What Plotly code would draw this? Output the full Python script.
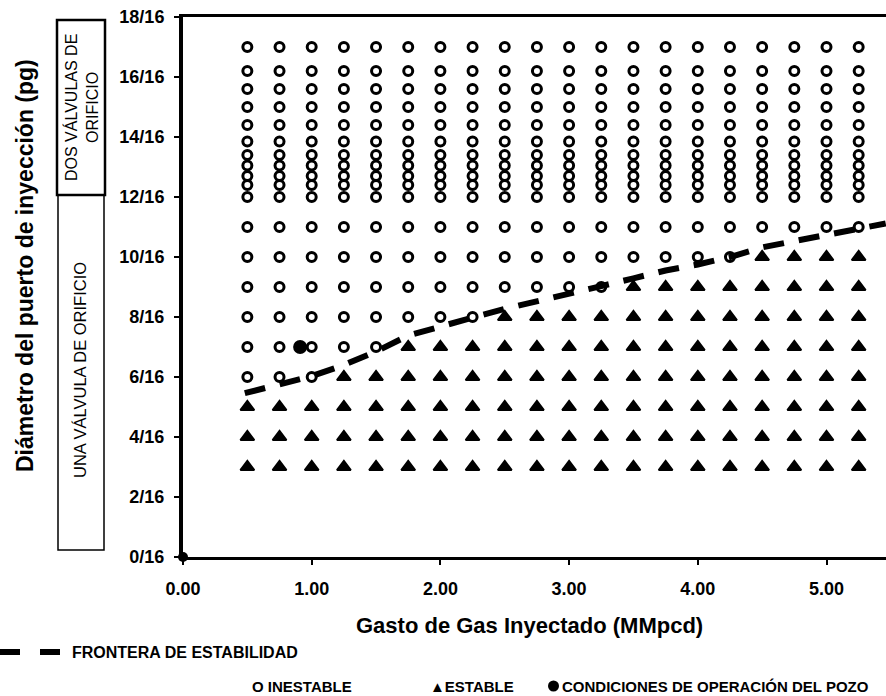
import plotly.graph_objects as go

# ---------------- data ----------------
flow_cols = [0.50, 0.75, 1.00, 1.25, 1.50, 1.75, 2.00, 2.25, 2.50, 2.75,
             3.00, 3.25, 3.50, 3.75, 4.00, 4.25, 4.50, 4.75, 5.00, 5.25]
port_rows = [3, 4, 5, 6, 7, 8, 9, 10, 11,
             12.0, 12.4, 12.7, 13.05, 13.4, 13.85, 14.4, 15.0, 15.6, 16.2, 17.0]
# first gas rate at which each row becomes stable (None = unstable in the whole row)
stable_from = [0.50, 0.50, 0.50, 1.25, 1.75, 2.50, 3.50, 4.50, None,
               None, None, None, None, None, None, None, None, None, None, None]

frontier_x = [0.48, 0.75, 1.00, 1.25, 1.50, 1.75, 2.00, 2.25, 2.50, 2.75, 3.00,
              3.25, 3.50, 3.75, 4.00, 4.25, 4.50, 4.75, 5.00, 5.25, 5.46]
frontier_y = [5.46, 5.73, 6.03, 6.40, 6.85, 7.38, 7.70, 7.98, 8.27, 8.51, 8.76,
              9.03, 9.29, 9.55, 9.75, 10.00, 10.32, 10.52, 10.72, 10.94, 11.12]

operating_x = [0.91]
operating_y = [7.0]
origin_x = [0.0]
origin_y = [0.0]

y_tick_vals = [0, 2, 4, 6, 8, 10, 12, 14, 16, 18]
y_tick_text = ["0/16", "2/16", "4/16", "6/16", "8/16", "10/16", "12/16", "14/16", "16/16", "18/16"]
x_tick_vals = [0, 1, 2, 3, 4, 5]
x_tick_text = ["0.00", "1.00", "2.00", "3.00", "4.00", "5.00"]

# ---------------- split grid into stable / unstable ----------------
st_x, st_y, un_x, un_y = [], [], [], []
for row, lim in zip(port_rows, stable_from):
    for q in flow_cols:
        if lim is not None and q >= lim:
            st_x.append(q); st_y.append(row)
        else:
            un_x.append(q); un_y.append(row)

# ---------------- geometry helpers (pixels -> paper) ----------------
W, H = 886, 696
L, R, T, B = 183, 886, 17, 557
def px(x):
    return (x - L) / (R - L)
def py(y):
    return (B - y) / (B - T)

FONT = "Arial, 'Liberation Sans', sans-serif"
BLACK = "#000000"

fig = go.Figure()
fig.add_trace(go.Scatter(x=un_x, y=un_y, mode="markers", name="INESTABLE",
                         marker=dict(symbol="circle-open", size=9, color=BLACK,
                                     line=dict(width=3, color=BLACK)),
                         showlegend=False, cliponaxis=False))
fig.add_trace(go.Scatter(x=st_x, y=st_y, mode="markers", name="ESTABLE",
                         marker=dict(symbol="triangle-up", size=12, color=BLACK,
                                     line=dict(width=2, color=BLACK)),
                         showlegend=False, cliponaxis=False))
fig.add_trace(go.Scatter(x=frontier_x, y=frontier_y, mode="lines",
                         name="FRONTERA DE ESTABILIDAD",
                         line=dict(color=BLACK, width=6, dash="21px,15px"),
                         showlegend=False))
fig.add_trace(go.Scatter(x=operating_x, y=operating_y, mode="markers",
                         name="CONDICIONES DE OPERACIÓN DEL POZO",
                         marker=dict(symbol="circle", size=14, color=BLACK),
                         showlegend=False, cliponaxis=False))
fig.add_trace(go.Scatter(x=origin_x, y=origin_y, mode="markers",
                         marker=dict(symbol="circle", size=10, color=BLACK),
                         showlegend=False, cliponaxis=False, hoverinfo="skip"))

shapes = [
    dict(type="rect", xref="paper", yref="paper", x0=px(57), x1=px(105),
         y0=py(195), y1=py(20), line=dict(color=BLACK, width=2.5)),
    dict(type="rect", xref="paper", yref="paper", x0=px(58), x1=px(104),
         y0=py(550), y1=py(195), line=dict(color=BLACK, width=1.5)),
    # legend sample of the stability frontier
    dict(type="line", xref="paper", yref="paper", x0=px(0), x1=px(62),
         y0=py(652), y1=py(652), line=dict(color=BLACK, width=6, dash="20px,20px")),
    # legend symbol for operating conditions
    dict(type="circle", xref="paper", yref="paper", x0=px(548), x1=px(559),
         y0=py(691.5), y1=py(680.5), fillcolor=BLACK, line=dict(color=BLACK, width=0)),
]

annotations = [
    dict(text="DOS VÁLVULAS DE<br>ORIFICIO", textangle=-90, xref="paper", yref="paper",
         x=px(81), y=py(108), xanchor="center", yanchor="middle", showarrow=False,
         font=dict(family=FONT, size=16, color=BLACK)),
    dict(text="UNA VÁLVULA DE ORIFICIO", textangle=-90, xref="paper", yref="paper",
         x=px(80), y=py(370), xanchor="center", yanchor="middle", showarrow=False,
         font=dict(family=FONT, size=16.5, color=BLACK)),
    dict(text="<b>Diámetro del puerto de inyección (pg)</b>", textangle=-90,
         xref="paper", yref="paper", x=px(25), y=py(266), xanchor="center",
         yanchor="middle", showarrow=False, font=dict(family=FONT, size=23, color=BLACK)),
    dict(text="<b>Gasto de Gas Inyectado (MMpcd)</b>", xref="paper", yref="paper",
         x=px(529), y=py(625), xanchor="center", yanchor="middle", showarrow=False,
         font=dict(family=FONT, size=22, color=BLACK)),
    dict(text="<b>FRONTERA DE ESTABILIDAD</b>", xref="paper", yref="paper",
         x=px(70), y=py(652), xanchor="left", yanchor="middle", showarrow=False,
         font=dict(family=FONT, size=16, color=BLACK)),
    dict(text="<b>O INESTABLE</b>", xref="paper", yref="paper",
         x=px(250), y=py(686), xanchor="left", yanchor="middle", showarrow=False,
         font=dict(family=FONT, size=15, color=BLACK)),
    dict(text="<b>▲ESTABLE</b>", xref="paper", yref="paper",
         x=px(428), y=py(686), xanchor="left", yanchor="middle", showarrow=False,
         font=dict(family=FONT, size=15, color=BLACK)),
    dict(text="<b>CONDICIONES DE OPERACIÓN DEL POZO</b>",
         xref="paper", yref="paper",
         x=px(560), y=py(686), xanchor="left", yanchor="middle", showarrow=False,
         font=dict(family=FONT, size=15, color=BLACK)),
]

fig.update_layout(
    template="none",
    width=W, height=H,
    margin=dict(l=L, r=W - R, t=T, b=H - B, pad=0),
    paper_bgcolor="white", plot_bgcolor="white",
    font=dict(family=FONT, color=BLACK),
    shapes=shapes, annotations=annotations,
    showlegend=False,
)
fig.update_xaxes(range=[0, (R - L) / 128.7], tickvals=x_tick_vals, ticktext=x_tick_text,
                 showgrid=False, zeroline=False, showline=True, linewidth=3,
                 linecolor=BLACK, mirror=True, ticks="outside", ticklen=5, tickwidth=2,
                 tickcolor=BLACK, ticklabelstandoff=8,
                 tickfont=dict(family=FONT, size=18, color=BLACK, weight="bold"),
                 automargin=False)
fig.update_yaxes(range=[0, 18], tickvals=y_tick_vals, ticktext=y_tick_text,
                 showgrid=False, zeroline=False, showline=True, linewidth=4,
                 linecolor=BLACK, ticks="outside", ticklen=5, tickwidth=2,
                 tickcolor=BLACK, ticklabelstandoff=6,
                 tickfont=dict(family=FONT, size=18, color=BLACK, weight="bold"),
                 automargin=False)

fig.write_html("out.html")
